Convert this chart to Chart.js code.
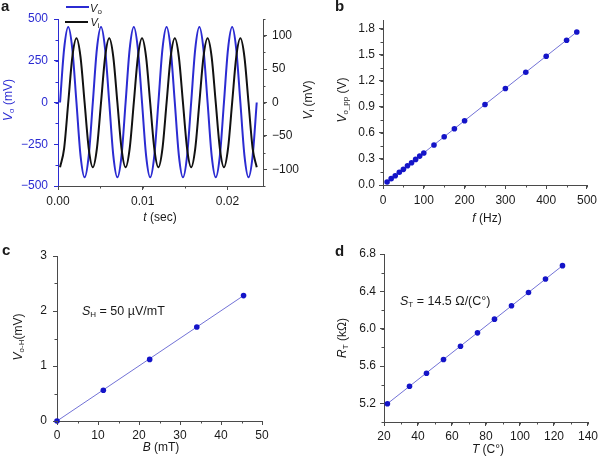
<!DOCTYPE html>
<html>
<head>
<meta charset="utf-8">
<script src="https://cdn.jsdelivr.net/npm/chart.js@4.4.1/dist/chart.umd.min.js"></script>
<style>
  html, body { margin: 0; padding: 0; background: #fff; }
  #fig { position: relative; width: 601px; height: 461px; overflow: hidden;
         font-family: 'Liberation Sans', Arial, sans-serif; color: #1a1a1a; }
  #fig canvas { position: absolute; }
  .t { position: absolute; white-space: nowrap; font-size: 12px; line-height: 14px; }
  .c { transform: translate(-50%, -50%); }
  .r { transform: translate(-50%, -50%) rotate(-90deg); }
  .p { font-weight: bold; font-size: 15px; line-height: 15px; }
  .leg { position: absolute; height: 0; border-top: 2px solid; }
  sub { font-size: 8px; vertical-align: -2px; line-height: 0; font-style: normal; }
</style>
</head>
<body>
<div id="fig">
  <canvas id="chA" width="300" height="230" style="left:0;top:0"></canvas>
  <canvas id="chB" width="301" height="230" style="left:300px;top:0"></canvas>
  <canvas id="chC" width="300" height="231" style="left:0;top:230px"></canvas>
  <canvas id="chD" width="301" height="231" style="left:300px;top:230px"></canvas>

  <!-- panel letters -->
  <div class="t p" style="left:1px;top:-2px">a</div>
  <div class="t p" style="left:335px;top:-2px">b</div>
  <div class="t p" style="left:2px;top:242px">c</div>
  <div class="t p" style="left:335px;top:243px">d</div>

  <!-- panel a legend -->
  <div class="leg" style="left:66px;top:6px;width:23px;border-color:#2b2bd2"></div>
  <div class="leg" style="left:65px;top:21px;width:23px;border-color:#111"></div>
  <div class="t c" style="left:96px;top:8px;font-size:11px"><i>V</i><sub>o</sub></div>
  <div class="t c" style="left:95px;top:22px;font-size:11px"><i>V</i><sub>i</sub></div>

  <!-- axis titles -->
  <div class="t r" style="left:8px;top:100px;color:#2b2bd2"><i>V</i><sub>o</sub> (mV)</div>
  <div class="t r" style="left:308px;top:100px"><i>V</i><sub>i</sub> (mV)</div>
  <div class="t c" style="left:160px;top:217px"><i>t</i> (sec)</div>

  <div class="t r" style="left:342px;top:100px"><i>V</i><sub>o_pp</sub> (V)</div>
  <div class="t c" style="left:487px;top:218px"><i>f</i> (Hz)</div>

  <div class="t r" style="left:18px;top:337px"><i>V</i><sub>o-H</sub>(mV)</div>
  <div class="t c" style="left:161px;top:447px"><i>B</i> (mT)</div>
  <div class="t" style="left:82px;top:304px;font-size:12.5px"><i>S</i><sub>H</sub> = 50 µV/mT</div>

  <div class="t r" style="left:342px;top:338px"><i>R<sub>T</sub></i> (kΩ)</div>
  <div class="t c" style="left:488px;top:449px"><i>T</i> (C°)</div>
  <div class="t" style="left:400px;top:294px;font-size:12.5px"><i>S</i><sub>T</sub> = 14.5 Ω/(C°)</div>
</div>

<script>
/* ============================================================
   DATA
   ============================================================ */
// panel a - output / input waveforms
const timeSec = [0.00024, 0.00072, 0.00121, 0.00169, 0.00218, 0.00266, 0.00314, 0.00363,
                 0.00411, 0.00459, 0.00508, 0.00556, 0.00605, 0.00653, 0.00701, 0.00750,
                 0.00798, 0.00846, 0.00895, 0.00943, 0.00992, 0.01040, 0.01088, 0.01137,
                 0.01185, 0.01233, 0.01282, 0.01330, 0.01379, 0.01427, 0.01475, 0.01524,
                 0.01572, 0.01620, 0.01669, 0.01717, 0.01766, 0.01814, 0.01862, 0.01911,
                 0.01959, 0.02007, 0.02056, 0.02104, 0.02153, 0.02201, 0.02249, 0.02298, 0.02346];
const voMv = [0, 320, 452, 320, 0, -318, -448, -318,
              0, 320, 452, 320, 0, -318, -448, -318,
              0, 320, 452, 320, 0, -318, -448, -318,
              0, 320, 452, 320, 0, -318, -448, -318,
              0, 320, 452, 320, 0, -318, -448, -318,
              0, 320, 452, 320, 0, -318, -448, -318, 0];
const viMv = [-97, -69, 0, 68, 96, 68, 0, -69,
              -97, -69, 0, 68, 96, 68, 0, -69,
              -97, -69, 0, 68, 96, 68, 0, -69,
              -97, -69, 0, 68, 96, 68, 0, -69,
              -97, -69, 0, 68, 96, 68, 0, -69,
              -97, -69, 0, 68, 96, 68, 0, -69, -97];
const aTicksX = [0, 0.01, 0.02];
const aTicksVo = [-500, -250, 0, 250, 500];
const aTicksVi = [-100, -50, 0, 50, 100];

// panel b - peak-to-peak output vs frequency
const freqHz = [10, 20, 30, 40, 50, 60, 70, 80, 90, 100, 125, 150, 175, 200, 250, 300, 350, 400, 450, 475];
const voppV = [0.034, 0.073, 0.107, 0.146, 0.180, 0.222, 0.257, 0.295, 0.333, 0.368,
               0.460, 0.556, 0.648, 0.740, 0.927, 1.111, 1.299, 1.483, 1.667, 1.762];
const bFitHz = [10, 475];
const bFitV = [0.036, 1.762];
const bTicksX = [0, 100, 200, 300, 400, 500];
const bTicksY = [0, 0.3, 0.6, 0.9, 1.2, 1.5, 1.8];

// panel c - Hall output vs field
const fieldMt = [0, 11.3, 22.6, 34.1, 45.5];
const vohMv = [0, 0.56, 1.12, 1.71, 2.28];
const cFitMt = [0, 45.5];
const cFitMv = [0, 2.28];
const cTicksX = [0, 10, 20, 30, 40, 50];
const cTicksY = [0, 1, 2, 3];

// panel d - resistance vs temperature
const tempC = [22, 35, 45, 55, 65, 75, 85, 95, 105, 115, 125];
const rtKohm = [5.196, 5.383, 5.522, 5.669, 5.812, 5.955, 6.102, 6.245, 6.388, 6.532, 6.675];
const dFitC = [22, 125];
const dFitK = [5.196, 6.675];
const dTicksX = [20, 40, 60, 80, 100, 120, 140];
const dTicksY = [5.2, 5.6, 6.0, 6.4, 6.8];

/* ============================================================
   HELPERS
   ============================================================ */
const FONT = { family: "'Liberation Sans', Arial, sans-serif", size: 12 };
const AXIS = '#4a4a4a';
const BLUE = '#2b2bd2';
const DOT = '#1414c8';
const FIT = '#7272d6';

function xy(xs, ys) { return xs.map((x, i) => ({ x: x, y: ys[i] })); }
function minus(v) { return v < 0 ? '\u2212' + Math.abs(v) : String(v); }

function axis(pos, min, max, ticks, fmt, size, color, labelColor, pad) {
  return {
    type: 'linear', position: pos, min: min, max: max,
    afterBuildTicks: s => { s.ticks = ticks.map(v => ({ value: v })); },
    afterFit: s => { if (pos === 'bottom') s.height = size; else s.width = size; },
    grid: { drawOnChartArea: false, drawTicks: true, tickLength: 4, color: color || AXIS },
    border: { display: true, color: color || AXIS, width: 1 },
    ticks: { font: FONT, color: labelColor || '#1a1a1a', padding: pad || 3, maxRotation: 0,
             autoSkip: false, callback: fmt }
  };
}

// short unlabelled ticks between the major ones
const minorTicks = {
  id: 'minorTicks',
  afterDraw(chart, args, opts) {
    const ctx = chart.ctx;
    const steps = opts.steps || {};
    ctx.save();
    ctx.lineWidth = 1;
    Object.keys(steps).forEach(id => {
      const s = chart.scales[id];
      const step = steps[id];
      ctx.strokeStyle = (opts.colors && opts.colors[id]) || AXIS;
      ctx.beginPath();
      for (let v = Math.ceil(s.min / step - 1e-9) * step; v <= s.max + 1e-9; v += step) {
        const p = Math.round(s.getPixelForValue(v)) + 0.5;
        if (s.position === 'bottom') { ctx.moveTo(p, s.top); ctx.lineTo(p, s.top + 2.5); }
        else if (s.position === 'left') { ctx.moveTo(s.right, p); ctx.lineTo(s.right - 2.5, p); }
        else { ctx.moveTo(s.left, p); ctx.lineTo(s.left + 2.5, p); }
      }
      ctx.stroke();
    });
    ctx.restore();
  }
};

function baseOptions(padding, scales, minor) {
  return {
    responsive: false,
    animation: false,
    devicePixelRatio: 1,
    layout: { padding: padding },
    plugins: { legend: { display: false }, tooltip: { enabled: false }, minorTicks: minor },
    scales: scales
  };
}

function scatterSets(xs, ys, fx, fy) {
  return [
    { data: xy(xs, ys), backgroundColor: DOT, borderWidth: 0, pointRadius: 2.8, showLine: false, order: 0, clip: false },
    { data: xy(fx, fy), borderColor: FIT, borderWidth: 1, pointRadius: 0, showLine: true, order: 1 }
  ];
}

/* ============================================================
   PANEL A - waveforms
   ============================================================ */
new Chart(document.getElementById('chA'), {
  type: 'line',
  data: {
    datasets: [
      { data: xy(timeSec, voMv), yAxisID: 'y', borderColor: BLUE, borderWidth: 2, pointRadius: 0,
        cubicInterpolationMode: 'monotone', order: 1 },
      { data: xy(timeSec, viMv), yAxisID: 'y1', borderColor: '#111', borderWidth: 2, pointRadius: 0,
        cubicInterpolationMode: 'monotone', order: 0 }
    ]
  },
  options: baseOptions(
    { top: 19, left: 0, right: 0, bottom: 0 },
    {
      x: axis('bottom', 0, 0.0242, aTicksX, v => v.toFixed(2), 44, null, null, 4),
      y: axis('left', -500, 500, aTicksVo, minus, 58, BLUE, BLUE, 6),
      y1: axis('right', -125, 125, aTicksVi, minus, 37, null, null, 5)
    },
    { steps: { x: 0.005, y: 125, y1: 25 }, colors: { y: BLUE } }
  ),
  plugins: [minorTicks]
});

/* ============================================================
   PANEL B - Vo_pp vs f
   ============================================================ */
new Chart(document.getElementById('chB'), {
  type: 'scatter',
  data: { datasets: scatterSets(freqHz, voppV, bFitHz, bFitV) },
  options: baseOptions(
    { top: 20, left: 0, right: 11, bottom: 0 },
    {
      x: axis('bottom', 0, 500, bTicksX, v => String(v), 45, null, null, 4),
      y: axis('left', 0, 1.9, bTicksY, v => v.toFixed(1), 83, null, null, 4)
    },
    { steps: { x: 50, y: 0.15 } }
  ),
  plugins: [minorTicks]
});

/* ============================================================
   PANEL C - Hall voltage vs B
   ============================================================ */
new Chart(document.getElementById('chC'), {
  type: 'scatter',
  data: { datasets: scatterSets(fieldMt, vohMv, cFitMt, cFitMv) },
  options: baseOptions(
    { top: 26, left: 0, right: 38, bottom: 0 },
    {
      x: axis('bottom', 0, 50, cTicksX, v => String(v), 40),
      y: axis('left', 0, 3, cTicksY, v => String(v), 57, null, null, 6)
    },
    { steps: { x: 5, y: 0.5 } }
  ),
  plugins: [minorTicks]
});

/* ============================================================
   PANEL D - R_T vs T
   ============================================================ */
new Chart(document.getElementById('chD'), {
  type: 'scatter',
  data: { datasets: scatterSets(tempC, rtKohm, dFitC, dFitK) },
  options: baseOptions(
    { top: 24, left: 0, right: 11, bottom: 0 },
    {
      x: axis('bottom', 20, 140, dTicksX, v => String(v), 39),
      y: axis('left', 5.0, 6.8, dTicksY, v => v.toFixed(1), 84, null, null, 4)
    },
    { steps: { x: 10, y: 0.2 } }
  ),
  plugins: [minorTicks]
});
</script>
</body>
</html>
